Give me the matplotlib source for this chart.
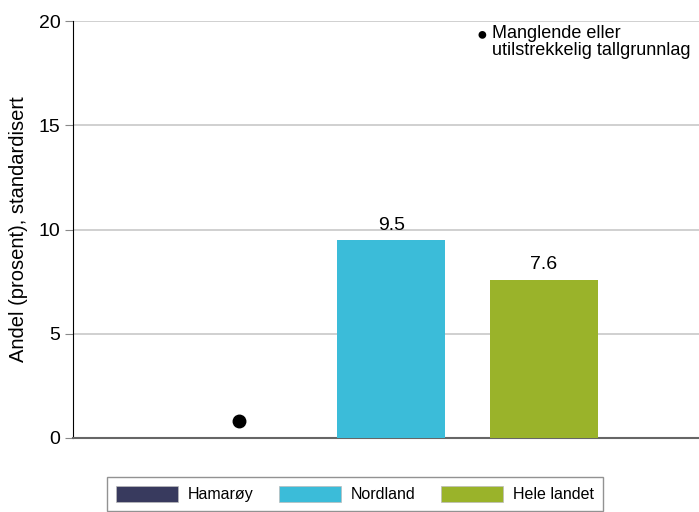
import matplotlib.pyplot as plt
from matplotlib.patches import Patch

# Data
kategorier = ['Hamarøy', 'Nordland', 'Hele landet']
verdier = [None, 9.5, 7.6]          # Hamarøy mangler tall
farger = ['#383a5e', '#3bbcd9', '#9ab32a']
mangler_pos = 0
mangler_y = 0.8
y_ticks = [0, 5, 10, 15, 20]

plt.rcParams['font.family'] = ['Liberation Sans', 'DejaVu Sans']

fig = plt.figure(figsize=(6.99, 5.12), dpi=100)
ax = fig.add_axes([73 / 699, 1 - 438 / 512, 1 - 73 / 699, (438 - 21) / 512])

# Stolper
for i, v in enumerate(verdier):
    if v is None:
        continue
    ax.bar(i, v, width=0.71, color=farger[i], zorder=3)
    ax.text(i, v + 0.3, f'{v:.1f}', ha='center', va='bottom', fontsize=14)

# Manglende tall
ax.plot(mangler_pos, mangler_y, 'o', color='black', markersize=9, zorder=4, clip_on=False)

ax.set_xlim(-1.09, 3.02)
ax.set_ylim(0, 20)
ax.set_yticks(y_ticks)
ax.set_yticklabels([str(t) for t in y_ticks], fontsize=14)
ax.set_xticks([])
ax.yaxis.grid(True, color='#c8c8c8', linewidth=1.2, zorder=0)
ax.set_axisbelow(True)
ax.tick_params(axis='y', length=6, color='#888888', pad=3)
for s in ['top', 'right']:
    ax.spines[s].set_visible(False)
ax.spines['left'].set_color('black')
ax.spines['bottom'].set_color('#666666')
ax.spines['bottom'].set_linewidth(1.5)
ax.set_ylabel('Andel (prosent), standardisert', fontsize=14.5, labelpad=8)

# Forklaring øverst til høyre
fig.text(477 / 699, 1 - 35 / 512, '●', fontsize=13, va='center', ha='left')
fig.text(492 / 699, 1 - 25 / 512, 'Manglende eller\nutilstrekkelig tallgrunnlag',
         fontsize=13, va='top', ha='left', linespacing=1.0)

# Legende
handles = [Patch(facecolor=c, edgecolor='#bbbbbb', linewidth=0.5) for c in farger]
leg = fig.legend(handles, kategorier, loc='upper left',
                 bbox_to_anchor=(107 / 699, 1 - 477 / 512), ncol=3, fontsize=11.5,
                 frameon=True, fancybox=False, edgecolor='#777777',
                 handlelength=3.9, handleheight=1.2, handletextpad=0.6,
                 columnspacing=1.6, borderpad=0.55, borderaxespad=0)
leg.get_frame().set_linewidth(1.0)

fig.savefig('out.png', dpi=100)
